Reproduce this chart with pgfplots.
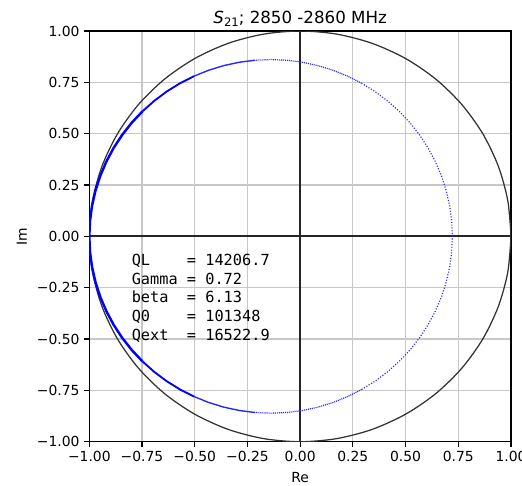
\documentclass[border=0pt]{standalone}
\usepackage{fontspec}
\setmainfont{DejaVu Sans}
\newfontfamily\monofont{DejaVu Sans Mono}
\usepackage{pgfplots}
\pgfplotsset{compat=1.18}
\definecolor{gridc}{HTML}{C8C8C8}
\definecolor{dotc}{HTML}{2A2AFF}
\begin{document}
\begin{tikzpicture}
\begin{axis}[
  scale only axis, width=303.6pt, height=295.7pt,
  xmin=-1, xmax=1, ymin=-1, ymax=1,
  xtick={-1,-0.75,-0.5,-0.25,0,0.25,0.5,0.75,1},
  ytick={-1,-0.75,-0.5,-0.25,0,0.25,0.5,0.75,1},
  xticklabels={−1.00,−0.75,−0.50,−0.25,0.00,0.25,0.50,0.75,1.00},
  yticklabels={−1.00,−0.75,−0.50,−0.25,0.00,0.25,0.50,0.75,1.00},
  tick pos=left, tick align=outside, major tick length=3.5pt,
  every tick/.style={black, line width=0.8pt},
  axis line style={black, line width=0.8pt},
  grid=major, major grid style={gridc, line width=0.8pt},
  ticklabel style={font=\fontsize{10}{12}\selectfont},
  xlabel={Re}, ylabel={Im},
  label style={font=\fontsize{10}{12}\selectfont},
  xlabel style={at={(axis description cs:0.5,-0.087)}, anchor=center},
  ylabel style={at={(axis description cs:-0.16,0.5)}, anchor=center},
  title={\textit{S}\raisebox{-0.3ex}{\fontsize{8.4}{10}\selectfont 21}; 2850 -2860 MHz},
  title style={font=\fontsize{12}{14}\selectfont, at={(axis description cs:0.5,1)}, anchor=base, yshift=-0.5pt},
]
% axes through origin
\addplot[black!85, line width=1.4pt] coordinates {(-1,0) (1,0)};
\addplot[black!85, line width=1.4pt] coordinates {(0,-1) (0,1)};
% unit circle
\addplot[black!80, line width=0.9pt, smooth] coordinates {
(1,0)(0.9848,0.1736)(0.9397,0.3420)(0.8660,0.5)(0.7660,0.6428)(0.6428,0.7660)(0.5,0.8660)(0.3420,0.9397)(0.1736,0.9848)(0,1)
(-0.1736,0.9848)(-0.3420,0.9397)(-0.5,0.8660)(-0.6428,0.7660)(-0.7660,0.6428)(-0.8660,0.5)(-0.9397,0.3420)(-0.9848,0.1736)(-1,0)
(-0.9848,-0.1736)(-0.9397,-0.3420)(-0.8660,-0.5)(-0.7660,-0.6428)(-0.6428,-0.7660)(-0.5,-0.8660)(-0.3420,-0.9397)(-0.1736,-0.9848)(0,-1)
(0.1736,-0.9848)(0.3420,-0.9397)(0.5,-0.8660)(0.6428,-0.7660)(0.7660,-0.6428)(0.8660,-0.5)(0.9397,-0.3420)(0.9848,-0.1736)(1,0)};
% S21 trace: sparse part near resonance
\addplot[dotc, line width=0.85pt, dash pattern=on 0.8pt off 1.2pt] coordinates {
(0.2915,-0.74565)(0.3549,-0.70529)(0.4144,-0.65956)(0.4698,-0.60882)(0.5206,-0.55344)(0.5663,-0.49385)(0.6067,-0.4305)(0.6413,-0.36388)(0.6701,-0.29448)(0.6927,-0.22284)(0.7089,-0.14951)(0.7187,-0.07505)
(0.722,0)
(0.7187,0.07505)(0.7089,0.14951)(0.6927,0.22284)(0.6701,0.29448)(0.6413,0.36388)(0.6067,0.4305)(0.5663,0.49385)(0.5206,0.55344)(0.4698,0.60882)(0.4144,0.65956)(0.3549,0.70529)(0.2915,0.74565)};
\addplot[dotc, line width=0.85pt, dash pattern=on 0.75pt off 0.65pt] coordinates {
(0.2915,0.74565)(0.2249,0.78033)(0.1555,0.80907)(0.0838,0.83167)(0.0105,0.84792)(-0.0640,0.85772)(-0.139,0.861)(-0.2141,0.85772)};
\addplot[dotc, line width=0.85pt, dash pattern=on 0.75pt off 0.65pt] coordinates {
(0.2915,-0.74565)(0.2249,-0.78033)(0.1555,-0.80907)(0.0838,-0.83167)(0.0105,-0.84792)(-0.0640,-0.85772)(-0.139,-0.861)(-0.2141,-0.85772)};
% denser part
\addplot[blue!85, line width=1.0pt] coordinates {
(-0.2141,0.85772)(-0.2885,0.84792)(-0.3618,0.83167)(-0.4335,0.80907)(-0.5029,0.78033)};
\addplot[blue!85, line width=1.0pt] coordinates {
(-0.2141,-0.85772)(-0.2885,-0.84792)(-0.3618,-0.83167)(-0.4335,-0.80907)(-0.5029,-0.78033)};
\addplot[blue, line width=1.35pt] coordinates {
(-0.5029,0.78033)(-0.5695,0.74565)(-0.6329,0.70529)(-0.6924,0.65956)(-0.7478,0.60882)};
\addplot[blue, line width=1.35pt] coordinates {
(-0.5029,-0.78033)(-0.5695,-0.74565)(-0.6329,-0.70529)(-0.6924,-0.65956)(-0.7478,-0.60882)};
\addplot[blue, line width=1.75pt] coordinates {
(-0.7478,0.60882)(-0.7986,0.55344)(-0.8443,0.49385)(-0.8847,0.4305)(-0.9193,0.36388)(-0.9481,0.29448)(-0.9707,0.22284)(-0.9869,0.14951)(-0.9967,0.07505)
(-1,0)
(-0.9967,-0.07505)(-0.9869,-0.14951)(-0.9707,-0.22284)(-0.9481,-0.29448)(-0.9193,-0.36388)(-0.8847,-0.4305)(-0.8443,-0.49385)(-0.7986,-0.55344)(-0.7478,-0.60882)};
% parameter text
\node[anchor=base west, inner sep=0pt, font=\monofont\fontsize{11}{13.2}\selectfont] at (axis cs:-0.8,-0.143) {QL\ \ \ \ = 14206.7};
\node[anchor=base west, inner sep=0pt, font=\monofont\fontsize{11}{13.2}\selectfont] at (axis cs:-0.8,-0.2335) {Gamma = 0.72};
\node[anchor=base west, inner sep=0pt, font=\monofont\fontsize{11}{13.2}\selectfont] at (axis cs:-0.8,-0.324) {beta\ \ = 6.13};
\node[anchor=base west, inner sep=0pt, font=\monofont\fontsize{11}{13.2}\selectfont] at (axis cs:-0.8,-0.4145) {Q0\ \ \ \ = 101348};
\node[anchor=base west, inner sep=0pt, font=\monofont\fontsize{11}{13.2}\selectfont] at (axis cs:-0.8,-0.505) {Qext\ \ = 16522.9};
\coordinate (bl) at (rel axis cs:0,0);
\coordinate (tr) at (rel axis cs:1,1);
\end{axis}
\pgfresetboundingbox
\path[use as bounding box] ([shift={(-64.3pt,-31.18pt)}]bl) rectangle ([shift={(7.92pt,22.32pt)}]tr);
\end{tikzpicture}
\end{document}
